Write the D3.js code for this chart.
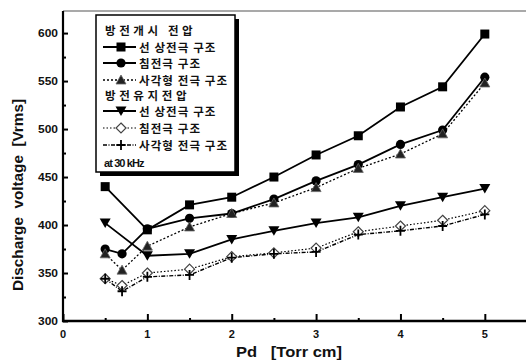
<!DOCTYPE html>
<html>
<head>
<meta charset="utf-8">
<script src="https://cdn.jsdelivr.net/npm/d3@7"></script>
<style>
  html, body { margin: 0; padding: 0; background: #fff; }
  svg { display: block; }
  .tick-label { font-family: "Liberation Sans", Arial, sans-serif; font-weight: bold; font-size: 11px; fill: #111; }
  .axis-title { font-family: "Liberation Sans", Arial, sans-serif; font-weight: bold; fill: #111; }
  .legend-text { font-family: "Noto Sans CJK KR", sans-serif; font-weight: bold; font-size: 11.5px; fill: #111; letter-spacing: 1.1px; }
  .legend-head { letter-spacing: 3.6px; }
</style>
</head>
<body>
<svg id="chart" width="526" height="363"></svg>
<script>
// Pd values [Torr cm]
const pdFull = [0.5, 0.7, 1, 1.5, 2, 2.5, 3, 3.5, 4, 4.5, 5];
const pdLine = [0.5, 1, 1.5, 2, 2.5, 3, 3.5, 4, 4.5, 5];

// Firing voltage (방전개시 전압) [Vrms]
const fireLine   = [440, 395, 421, 429, 450, 473, 493, 523, 544, 599];
const firePin    = [375, 370, 396, 407, 412, 427, 446, 463, 484, 499, 554];
const fireSquare = [370, 353, 378, 398, 412, 423, 439, 459, 474, 495, 548];

// Sustain voltage (방전유지 전압) [Vrms]
const sustLine   = [402, 368, 370, 385, 394, 402, 408, 420, 429, 438];
const sustPin    = [344, 337, 350, 354, 367, 371, 376, 393, 399, 405, 415];
const sustSquare = [344, 331, 346, 348, 366, 370, 372, 390, 394, 399, 411];

const yTicks = [300, 350, 400, 450, 500, 550, 600];
const xTicks = [0, 1, 2, 3, 4, 5];

const legendHeaders = ["방전개시 전압", "방전유지전압"];
const legendLabels = ["선 상전극 구조", "침전극 구조", "사각형 전극 구조"];

const svg = d3.select("#chart");
const plotL = 63, plotR = 527, plotT = 11, plotB = 321;

const x = d3.scaleLinear().domain([0, 5.5]).range([plotL, plotR]);
const y = d3.scaleLinear().domain([300, 623]).range([plotB, plotT]);

// top frame line
svg.append("line").attr("x1", plotL).attr("x2", 526).attr("y1", plotT).attr("y2", plotT)
  .attr("stroke", "#555").attr("stroke-width", 1.2);

// Y axis with inward ticks
const yAxisG = svg.append("g").attr("transform", `translate(${plotL},0)`);
yAxisG.call(d3.axisRight(y).tickValues(d3.range(300, 625, 25)).tickSize(4).tickFormat(""));
yAxisG.selectAll(".tick line").attr("stroke", "#000").attr("stroke-width", 2)
  .attr("x2", d => (d % 50 === 0 ? 5 : 3));
yAxisG.select(".domain").remove();
svg.append("line").attr("x1", plotL).attr("x2", plotL).attr("y1", plotT).attr("y2", plotB + 1)
  .attr("stroke", "#000").attr("stroke-width", 2.2);
svg.append("g").selectAll("text").data(yTicks).join("text")
  .attr("class", "tick-label")
  .attr("x", plotL - 5).attr("y", d => y(d) + 4)
  .attr("text-anchor", "end")
  .attr("textLength", 20).attr("lengthAdjust", "spacingAndGlyphs")
  .text(d => d);

// X axis with inward ticks
const xAxisG = svg.append("g").attr("transform", `translate(0,${plotB})`);
xAxisG.call(d3.axisTop(x).tickValues(d3.range(0, 5.51, 0.5)).tickSize(4).tickFormat(""));
xAxisG.selectAll(".tick line").attr("stroke", "#000").attr("stroke-width", 2)
  .attr("y2", d => (Math.abs(d - Math.round(d)) < 1e-6 ? -7 : -3));
xAxisG.select(".domain").remove();
svg.append("line").attr("x1", plotL - 1).attr("x2", 526).attr("y1", plotB).attr("y2", plotB)
  .attr("stroke", "#000").attr("stroke-width", 2.6);
svg.append("g").selectAll("text").data(xTicks).join("text")
  .attr("class", "tick-label")
  .attr("x", d => x(d)).attr("y", plotB + 17)
  .attr("text-anchor", "middle")
  .text(d => d);

// axis titles
svg.append("text").attr("class", "axis-title")
  .attr("transform", `translate(23,195) rotate(-90)`)
  .attr("text-anchor", "middle").attr("font-size", 15)
  .attr("textLength", 192).attr("lengthAdjust", "spacingAndGlyphs")
  .attr("xml:space", "preserve")
  .text("Discharge  voltage  [Vrms]");
svg.append("text").attr("class", "axis-title")
  .attr("x", 289).attr("y", 357).attr("text-anchor", "middle").attr("font-size", 15)
  .attr("textLength", 106).attr("lengthAdjust", "spacingAndGlyphs")
  .attr("xml:space", "preserve")
  .text("Pd   [Torr cm]");

// marker drawing
function marker(g, type, cx, cy) {
  const s = 4.5;
  if (type === "square") {
    g.append("rect").attr("x", cx - s).attr("y", cy - s).attr("width", 2 * s).attr("height", 2 * s).attr("fill", "#000");
  } else if (type === "circle") {
    g.append("circle").attr("cx", cx).attr("cy", cy).attr("r", 4.6).attr("fill", "#000");
  } else if (type === "triUp") {
    g.append("path").attr("d", `M${cx},${cy - 5}L${cx + 5},${cy + 4}L${cx - 5},${cy + 4}Z`)
      .attr("fill", "#222").attr("stroke", "#666").attr("stroke-width", 0.8);
  } else if (type === "triDown") {
    g.append("path").attr("d", `M${cx - 5.5},${cy - 4.5}L${cx + 5.5},${cy - 4.5}L${cx},${cy + 5}Z`).attr("fill", "#000");
  } else if (type === "diamond") {
    g.append("path").attr("d", `M${cx},${cy - 5}L${cx + 5},${cy}L${cx},${cy + 5}L${cx - 5},${cy}Z`)
      .attr("fill", "#fff").attr("stroke", "#444").attr("stroke-width", 1.2);
  } else if (type === "plus") {
    g.append("path").attr("d", `M${cx - 4.5},${cy}H${cx + 4.5}M${cx},${cy - 5}V${cy + 5}`)
      .attr("stroke", "#000").attr("stroke-width", 1.8);
  }
}

const series = [
  { xs: pdLine, ys: fireLine, type: "square", dash: null, w: 1.8 },
  { xs: pdFull, ys: firePin, type: "circle", dash: null, w: 1.8 },
  { xs: pdFull, ys: fireSquare, type: "triUp", dash: "2,2", w: 1.3 },
  { xs: pdLine, ys: sustLine, type: "triDown", dash: null, w: 1.8 },
  { xs: pdFull, ys: sustPin, type: "diamond", dash: "1.5,2", w: 1.2 },
  { xs: pdFull, ys: sustSquare, type: "plus", dash: "4,1.5,1,1.5", w: 1.4 }
];

const line = d3.line().x(d => x(d[0])).y(d => y(d[1]));
series.forEach(s => {
  const pts = s.xs.map((v, i) => [v, s.ys[i]]);
  svg.append("path").datum(pts).attr("d", line)
    .attr("fill", "none").attr("stroke", "#000").attr("stroke-width", s.w)
    .attr("stroke-dasharray", s.dash);
});
series.forEach(s => {
  const g = svg.append("g");
  s.xs.forEach((v, i) => marker(g, s.type, x(v), y(s.ys[i])));
});

// legend box with shadow
const lx = 96, ly = 15, lw = 139, lh = 157;
svg.append("rect").attr("x", lx + 4).attr("y", ly + 4).attr("width", lw).attr("height", lh).attr("fill", "#000");
svg.append("rect").attr("x", lx).attr("y", ly).attr("width", lw).attr("height", lh)
  .attr("fill", "#fff").attr("stroke", "#000").attr("stroke-width", 1.5);

const lg = svg.append("g");
const rows = [
  { header: legendHeaders[0], yy: 30 },
  { s: 0, label: legendLabels[0], yy: 47 },
  { s: 1, label: legendLabels[1], yy: 63 },
  { s: 2, label: legendLabels[2], yy: 80 },
  { header: legendHeaders[1], yy: 95 },
  { s: 3, label: legendLabels[0], yy: 111 },
  { s: 4, label: legendLabels[1], yy: 128 },
  { s: 5, label: legendLabels[2], yy: 145 }
];
rows.forEach(r => {
  if (r.header) {
    lg.append("text").attr("class", "legend-text legend-head").attr("x", 105).attr("y", r.yy + 4.5)
      .text(r.header);
  } else {
    const s = series[r.s];
    lg.append("line").attr("x1", 103).attr("x2", 136).attr("y1", r.yy).attr("y2", r.yy)
      .attr("stroke", "#000").attr("stroke-width", s.w).attr("stroke-dasharray", s.dash);
    marker(lg, s.type, 121, r.yy);
    lg.append("text").attr("class", "legend-text").attr("x", 139).attr("y", r.yy + 4.5).text(r.label);
  }
});
lg.append("text").attr("x", 104).attr("y", 167)
  .attr("font-family", "Liberation Sans, Arial, sans-serif").attr("font-weight", "bold")
  .attr("font-size", 11).attr("letter-spacing", -0.9).attr("fill", "#111")
  .text("at 30 kHz");
</script>
</body>
</html>
